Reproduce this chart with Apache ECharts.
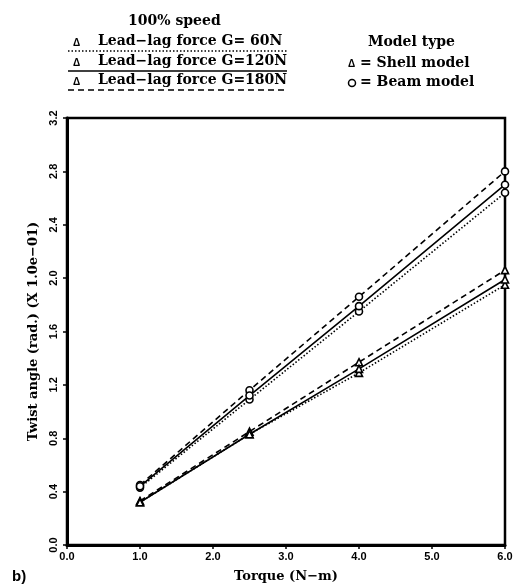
<!DOCTYPE html>
<html>
<head>
<meta charset="utf-8">
<script src="https://cdn.jsdelivr.net/npm/echarts@6/dist/echarts.min.js"></script>
<style>
  html, body { margin: 0; padding: 0; background: #fff; }
  #chart { width: 519px; height: 588px; }
</style>
</head>
<body>
<div id="chart"></div>
<script>
// torque values (N-m)
var torque = [1.0, 2.5, 4.0, 6.0];

// shell model (triangles)
var shell60 = [0.32, 0.83, 1.29, 1.95];
var shell120 = [0.32, 0.83, 1.32, 1.99];
var shell180 = [0.33, 0.85, 1.37, 2.06];

// beam model (circles)
var beam60 = [0.43, 1.09, 1.75, 2.64];
var beam120 = [0.44, 1.12, 1.79, 2.70];
var beam180 = [0.45, 1.16, 1.86, 2.80];

var forceLabels = ['Lead\u2212lag force G= 60N', 'Lead\u2212lag force G=120N', 'Lead\u2212lag force G=180N'];
var lineTypes = ['dotted', 'solid', 'dashed'];

var serif = '"DejaVu Serif", serif';
var sans = '"Liberation Sans", Arial, sans-serif';

function pairs(ys) {
    return torque.map(function (x, i) { return [x, ys[i]] })
}

function dash(lt) {
    return lt === 'dashed' ? [6, 4] : (lt === 'dotted' ? [1.5, 2] : 'solid')
}

function mkSeries(name, ys, symbol, lt) {
    return {
        name: name,
        type: 'line',
        data: pairs(ys),
        symbol: symbol,
        symbolSize: 7,
        showAllSymbol: true,
        lineStyle: { color: '#000', width: 1.6, type: dash(lt) },
        itemStyle: { color: '#fff', borderColor: '#000', borderWidth: 1.6 },
        emphasis: { disabled: true },
        z: lt === 'solid' ? 3 : 2
    }
}

var chart = echarts.init(document.getElementById('chart'));

// legend drawn with graphic elements
var legend = [
    { type: 'text', left: 128, top: 14, style: { text: '100% speed', font: 'bold 14px ' + serif, fill: '#000' } }
];
var rowY = [34, 54, 73];
forceLabels.forEach(function (t, i) {
    legend.push({ type: 'text', left: 73, top: rowY[i] + 4, style: { text: '\u0394', font: 'bold 10px ' + sans, fill: '#000' } });
    legend.push({ type: 'text', left: 98, top: rowY[i], style: { text: t, font: 'bold 14px ' + serif, fill: '#000' } });
    var d = dash(lineTypes[i]);
    legend.push({
        type: 'line', shape: { x1: 68, y1: rowY[i] + 17, x2: 287, y2: rowY[i] + 17 },
        style: { stroke: '#000', lineWidth: 1.6, lineDash: d === 'solid' ? null : d }
    });
});
legend.push({ type: 'text', left: 368, top: 35, style: { text: 'Model type', font: 'bold 14px ' + serif, fill: '#000' } });
legend.push({ type: 'text', left: 348, top: 59, style: { text: '\u0394', font: 'bold 10px ' + sans, fill: '#000' } });
legend.push({ type: 'text', left: 360, top: 56, style: { text: '= Shell model', font: 'bold 14px ' + serif, fill: '#000' } });
legend.push({ type: 'circle', shape: { cx: 352, cy: 83, r: 3.5 }, style: { fill: '#fff', stroke: '#000', lineWidth: 1.5 } });
legend.push({ type: 'text', left: 360, top: 75, style: { text: '= Beam model', font: 'bold 14px ' + serif, fill: '#000' } });
legend.push({ type: 'text', left: 12, top: 569, style: { text: 'b)', font: 'bold 15px ' + sans, fill: '#000' } });

chart.setOption({
    backgroundColor: '#fff',
    animation: false,
    grid: {
        left: 67, right: 14, top: 118, bottom: 38,
        show: true, borderColor: '#000', borderWidth: 2.5, backgroundColor: 'transparent'
    },
    xAxis: {
        type: 'value',
        min: 0, max: 6, interval: 1,
        name: 'Torque (N\u2212m)',
        nameLocation: 'middle',
        nameGap: 25,
        nameTextStyle: { color: '#000', fontFamily: serif, fontWeight: 'bold', fontSize: 13 },
        axisLine: { lineStyle: { color: '#000', width: 3 } },
        axisTick: { lineStyle: { color: '#000', width: 1.5 }, length: 4 },
        axisLabel: {
            color: '#000', fontFamily: sans, fontWeight: 'bold', fontSize: 11, margin: 6,
            formatter: function (v) { return v.toFixed(1) }
        },
        splitLine: { show: false }
    },
    yAxis: {
        type: 'value',
        min: 0, max: 3.2, interval: 0.4,
        name: 'Twist angle (rad.) (X 1.0e\u221201)',
        nameLocation: 'middle',
        nameGap: 24,
        nameTextStyle: { color: '#000', fontFamily: serif, fontWeight: 'bold', fontSize: 13 },
        axisLine: { lineStyle: { color: '#000', width: 3 } },
        axisTick: { lineStyle: { color: '#000', width: 1.5 }, length: 4 },
        axisLabel: {
            color: '#000', fontFamily: sans, fontWeight: 'bold', fontSize: 11, margin: 8, rotate: 90,
            formatter: function (v) { return v.toFixed(1) }
        },
        splitLine: { show: false }
    },
    graphic: legend,
    series: [
        mkSeries('shell60', shell60, 'triangle', 'dotted'),
        mkSeries('shell120', shell120, 'triangle', 'solid'),
        mkSeries('shell180', shell180, 'triangle', 'dashed'),
        mkSeries('beam60', beam60, 'circle', 'dotted'),
        mkSeries('beam120', beam120, 'circle', 'solid'),
        mkSeries('beam180', beam180, 'circle', 'dashed')
    ]
});
</script>
</body>
</html>
